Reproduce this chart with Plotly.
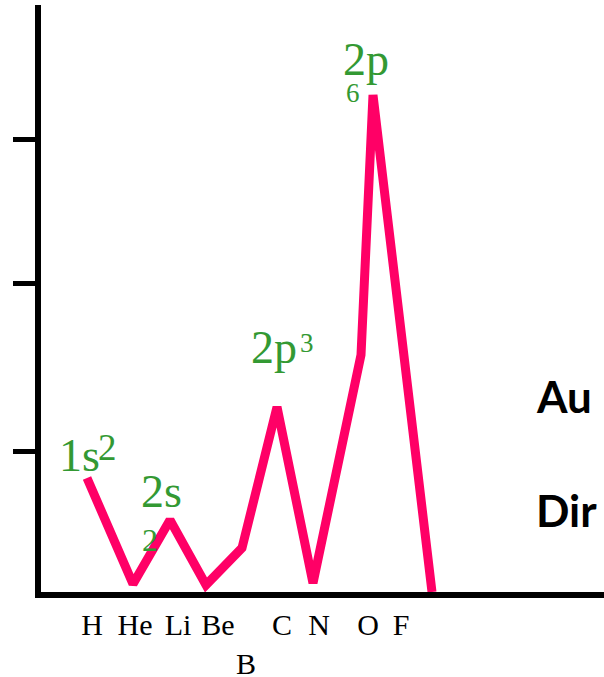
import plotly.graph_objects as go

# ---- data (arbitrary units) ----
point_x = [49, 95, 132, 168, 204, 239, 275, 323, 335, 394]
point_y = [117, 11, 75, 10, 47, 188, 12, 240, 500, 3]

element_labels = ["H", "He", "Li", "Be", "<br>B", "C", "N", "O", "F"]
element_pos = [54, 97, 140, 180, 208, 244, 281, 330, 363]

y_tick_vals = [144, 312, 456]

PINK = "#FF0066"
GREEN = "#339933"
SERIF = "Liberation Serif, Times New Roman, serif"

W, H = 604, 677
L, R, T, B = 41, 0, 5, 85

fig = go.Figure()
fig.add_trace(go.Scatter(
    x=point_x, y=point_y, mode="lines",
    line=dict(color=PINK, width=9),
    hoverinfo="skip", showlegend=False,
))

# green orbital annotations: (text, x, y, size)
orbital_notes = [
    ("1s", 19, 112.5, 46),
    ("2", 58, 125, 37),
    ("2s", 101, 76.5, 46),
    ("2", 102, 35, 32),
    ("2p", 211, 220.5, 46),
    ("3", 260, 235, 27),
    ("2p", 303, 508.5, 46),
    ("6", 306, 485, 27),
]
annotations = []
for txt, ax_, ay_, sz in orbital_notes:
    annotations.append(dict(
        text=txt, x=ax_, y=ay_, xref="x", yref="y",
        xanchor="left", yanchor="bottom", showarrow=False,
        font=dict(family=SERIF, size=sz, color=GREEN),
    ))

plot_w = W - L - R
plot_h = H - T - B
for txt, px, py in [("Au", 534, 424), ("Dir", 534, 538)]:
    annotations.append(dict(
        text=txt, x=(px - L) / plot_w, y=(H - B - py) / plot_h,
        xref="paper", yref="paper", xanchor="left", yanchor="bottom",
        showarrow=False,
        font=dict(family="Lato, sans-serif", size=44, color="black", weight="bold"),
    ))

fig.update_layout(
    width=W, height=H, autosize=False,
    margin=dict(l=L, r=R, t=T, b=B, pad=0, autoexpand=False),
    paper_bgcolor="white", plot_bgcolor="white",
    annotations=annotations,
    xaxis=dict(
        range=[3, 566], showgrid=False, zeroline=False, automargin=False,
        showline=True, linecolor="black", linewidth=6,
        tickmode="array", tickvals=element_pos, ticktext=element_labels,
        ticks="", tickangle=0,
        tickfont=dict(family=SERIF, size=30, color="black"),
        ticklabelstandoff=1,
    ),
    yaxis=dict(
        range=[3, 590], showgrid=False, zeroline=False, automargin=False,
        showline=True, linecolor="black", linewidth=6,
        tickmode="array", tickvals=y_tick_vals,
        ticks="outside", ticklen=22, tickwidth=5, tickcolor="black",
        showticklabels=False,
    ),
)

fig.write_html(
    "out.html",
    config={"displayModeBar": False},
    post_script="document.body.style.margin='0';document.body.style.overflow='hidden';",
)
